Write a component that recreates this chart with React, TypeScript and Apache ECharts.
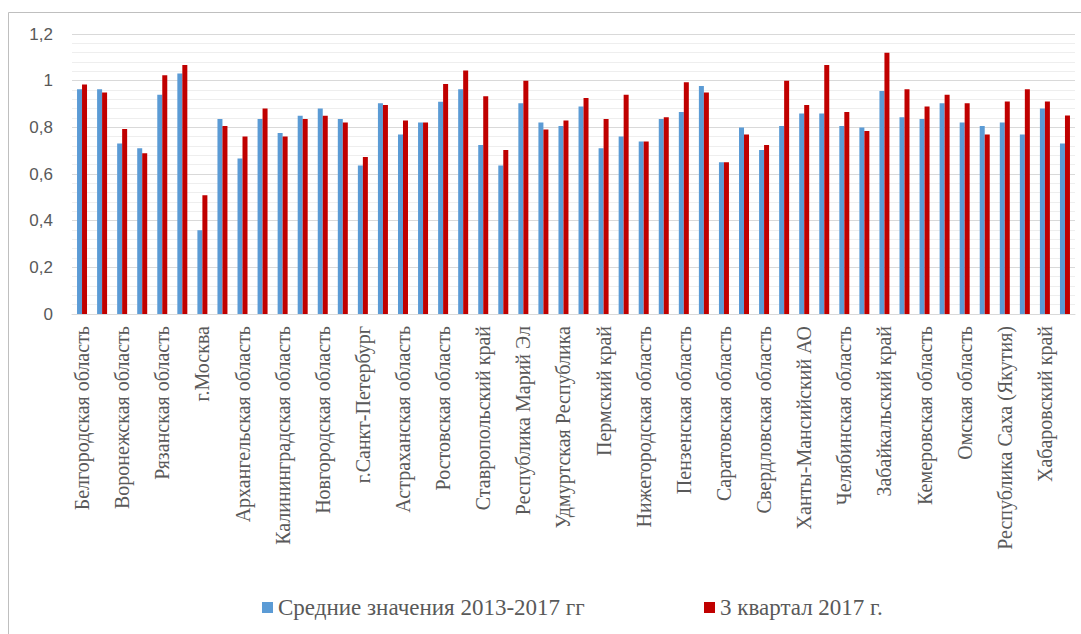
import React, { useEffect, useRef } from "react";
import * as echarts from "echarts";

// Regions along the category axis (every other name is shown on the axis)
const regions: string[] = [
  "Белгородская область", "Владимирская область",
  "Воронежская область", "Московская область",
  "Рязанская область", "Тульская область",
  "г.Москва", "Республика Карелия",
  "Архангельская область", "Вологодская область",
  "Калининградская область", "Ленинградская область",
  "Новгородская область", "Псковская область",
  "г.Санкт-Петербург", "Краснодарский край",
  "Астраханская область", "Волгоградская область",
  "Ростовская область", "Республика Дагестан",
  "Ставропольский край", "Республика Башкортостан",
  "Республика Марий Эл", "Республика Татарстан",
  "Удмуртская Республика", "Чувашская Республика",
  "Пермский край", "Кировская область",
  "Нижегородская область", "Оренбургская область",
  "Пензенская область", "Самарская область",
  "Саратовская область", "Ульяновская область",
  "Свердловская область", "Тюменская область",
  "Ханты-Мансийский АО", "Ямало-Ненецкий АО",
  "Челябинская область", "Алтайский край",
  "Забайкальский край", "Иркутская область",
  "Кемеровская область", "Новосибирская область",
  "Омская область", "Томская область",
  "Республика Саха (Якутия)", "Приморский край",
  "Хабаровский край", "Сахалинская область",
];

// Average values, 2013-2017
const avg2013to2017: number[] = [
  0.963, 0.963, 0.731, 0.71, 0.94, 1.031, 0.359, 0.836, 0.666, 0.836,
  0.776, 0.85, 0.881, 0.836, 0.636, 0.903, 0.769, 0.821, 0.91, 0.963,
  0.724, 0.636, 0.903, 0.821, 0.806, 0.889, 0.71, 0.761, 0.739, 0.836,
  0.866, 0.977, 0.65, 0.799, 0.703, 0.806, 0.859, 0.859, 0.806, 0.799,
  0.956, 0.843, 0.836, 0.903, 0.821, 0.806, 0.821, 0.769, 0.881, 0.731,
];

// Q3 2017 values
const q3of2017: number[] = [
  0.984, 0.949, 0.793, 0.689, 1.023, 1.067, 0.509, 0.806, 0.761, 0.881,
  0.761, 0.836, 0.85, 0.821, 0.673, 0.896, 0.829, 0.821, 0.986, 1.044,
  0.933, 0.703, 1.0, 0.791, 0.829, 0.926, 0.836, 0.94, 0.739, 0.843,
  0.993, 0.949, 0.65, 0.769, 0.724, 1.0, 0.896, 1.067, 0.866, 0.784,
  1.12, 0.963, 0.889, 0.94, 0.903, 0.769, 0.911, 0.963, 0.911, 0.851,
];

const seriesNames: string[] = ["Средние значения 2013-2017 гг", "3 квартал 2017 г."];

const BLUE = "#5B9BD5";
const RED = "#C00000";
const TEXT = "#595959";
const SERIF = "'Liberation Serif', 'Times New Roman', serif";
const SANS = "'Liberation Sans', Arial, sans-serif";

const legendText = {
  fontFamily: SERIF,
  fontSize: 23,
  color: TEXT,
};

export default function App() {
  const ref = useRef<HTMLDivElement>(null);

  useEffect(() => {
    if (!ref.current) return;
    const chart = echarts.init(ref.current, null, { renderer: "svg" });
    chart.setOption({
      animation: false,
      backgroundColor: "#ffffff",
      graphic: [
        {
          type: "rect",
          shape: { x: 8.5, y: 12.5, width: 1200, height: 800 },
          style: { fill: "none", stroke: "#BFBFBF", lineWidth: 1 },
          silent: true,
        },
      ],
      grid: { left: 72, right: 6, top: 34, bottom: 320, containLabel: false },
      legend: [
        {
          left: 257,
          top: 591,
          itemWidth: 11,
          itemHeight: 11,
          icon: "rect",
          textStyle: legendText,
          data: [seriesNames[0]],
        },
        {
          left: 699,
          top: 591,
          itemWidth: 11,
          itemHeight: 11,
          icon: "rect",
          textStyle: legendText,
          data: [seriesNames[1]],
        },
      ],
      xAxis: {
        type: "category",
        data: regions,
        axisLine: { show: true, lineStyle: { color: "#D9D9D9", width: 1 } },
        axisTick: { show: false },
        axisLabel: {
          interval: 1,
          rotate: 90,
          margin: 12,
          fontFamily: SERIF,
          fontSize: 20,
          color: TEXT,
        },
      },
      yAxis: {
        type: "value",
        min: 0,
        max: 1.2,
        interval: 0.2,
        axisLine: { show: false },
        axisTick: { show: false },
        axisLabel: {
          margin: 19,
          fontFamily: SANS,
          fontSize: 17,
          color: TEXT,
          formatter: (v: number) => String(+v.toFixed(1)).replace(".", ","),
        },
        splitLine: { show: true, lineStyle: { color: "#D9D9D9", width: 1 } },
        minorTick: { show: false, splitNumber: 5 },
        minorSplitLine: { show: true, lineStyle: { color: "#EEEEEE", width: 1 } },
      },
      series: [
        {
          name: seriesNames[0],
          type: "bar",
          data: avg2013to2017,
          barWidth: 5,
          barGap: "0%",
          itemStyle: { color: BLUE },
        },
        {
          name: seriesNames[1],
          type: "bar",
          data: q3of2017,
          barWidth: 5,
          barGap: "0%",
          itemStyle: { color: RED },
        },
      ],
    });
    return () => chart.dispose();
  }, []);

  return (
    <div
      ref={ref}
      style={{ position: "fixed", left: 0, top: 0, width: 1081, height: 634, background: "#fff" }}
    />
  );
}
